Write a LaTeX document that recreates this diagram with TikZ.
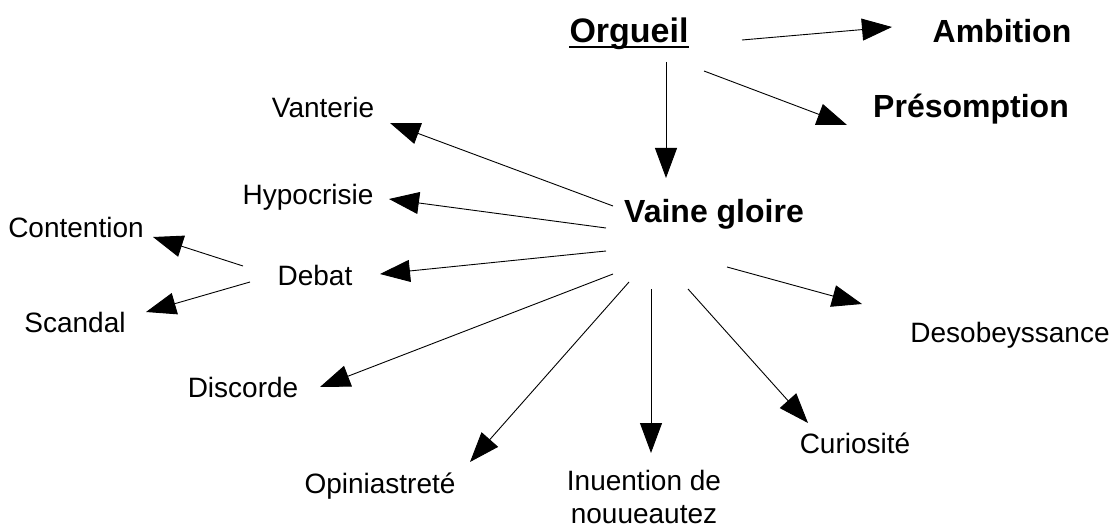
\documentclass[tikz,border=0pt]{standalone}
\usepackage{fontspec}
\setmainfont{Liberation Sans}
\usetikzlibrary{arrows.meta}
\tikzset{
  lbl/.style={inner sep=0pt, anchor=base, font=\fontsize{28}{34}\selectfont},
  blbl/.style={inner sep=0pt, anchor=base, font=\fontsize{32}{38}\selectfont\bfseries},
  arr/.style={-{Triangle[length=30pt,width=22pt]}, line width=0.9pt, black}
}
\begin{document}
\begin{tikzpicture}[x=1pt,y=-1pt]
\useasboundingbox (0,0) rectangle (1118,529);
% nodes
\node[blbl, font=\fontsize{34}{40}\selectfont\bfseries] (org) at (629,43) {Orgueil};
\draw[line width=2pt] ([yshift=-4pt]org.base west) -- ([yshift=-4pt]org.base east);
\node[blbl] (amb) at (1002,43) {Ambition};
\node[blbl] (pre) at (971,118) {Présomption};
\node[blbl] (vg) at (714,223) {Vaine gloire};
\node[lbl] (van) at (323,118) {Vanterie};
\node[lbl] (hyp) at (308,205) {Hypocrisie};
\node[lbl] (con) at (76,237) {Contention};
\node[lbl] (deb) at (315,285) {Debat};
\node[lbl] (sca) at (75,332) {Scandal};
\node[lbl] (des) at (1010,342) {Desobeyssance};
\node[lbl] (dis) at (243,397) {Discorde};
\node[lbl] (cur) at (855,453) {Curiosité};
\node[lbl] (opi) at (380,493) {Opiniastreté};
\node[lbl] (inu) at (644,490) {Inuention de};
\node[lbl] (nou) at (644,523) {nouueautez};
% connector ends
\coordinate (org-amb-s) at (742,40);  \coordinate (org-amb-e) at (892,27);
\coordinate (org-vg-s) at (666,62);   \coordinate (org-vg-e) at (666,178);
\coordinate (org-pre-s) at (704,71);  \coordinate (org-pre-e) at (847,125);
\coordinate (vg-van-s) at (613,206);  \coordinate (vg-van-e) at (390,123);
\coordinate (vg-hyp-s) at (606,228);  \coordinate (vg-hyp-e) at (389,199);
\coordinate (vg-deb-s) at (606,251);  \coordinate (vg-deb-e) at (380,274);
\coordinate (deb-con-s) at (243,266); \coordinate (deb-con-e) at (153,237);
\coordinate (deb-sca-s) at (250,282); \coordinate (deb-sca-e) at (146,312);
\coordinate (vg-dis-s) at (613,274);  \coordinate (vg-dis-e) at (320,387);
\coordinate (vg-opi-s) at (629,282);  \coordinate (vg-opi-e) at (470,462);
\coordinate (vg-inu-s) at (651,289);  \coordinate (vg-inu-e) at (651,453);
\coordinate (vg-cur-s) at (688,289);  \coordinate (vg-cur-e) at (808,423);
\coordinate (vg-des-s) at (727,267);  \coordinate (vg-des-e) at (862,304);
% connectors
\draw[arr] (org-amb-s) -- (org-amb-e);
\draw[arr] (org-vg-s) -- (org-vg-e);
\draw[arr] (org-pre-s) -- (org-pre-e);
\draw[arr] (vg-van-s) -- (vg-van-e);
\draw[arr] (vg-hyp-s) -- (vg-hyp-e);
\draw[arr] (vg-deb-s) -- (vg-deb-e);
\draw[arr] (deb-con-s) -- (deb-con-e);
\draw[arr] (deb-sca-s) -- (deb-sca-e);
\draw[arr] (vg-dis-s) -- (vg-dis-e);
\draw[arr] (vg-opi-s) -- (vg-opi-e);
\draw[arr] (vg-inu-s) -- (vg-inu-e);
\draw[arr] (vg-cur-s) -- (vg-cur-e);
\draw[arr] (vg-des-s) -- (vg-des-e);
\end{tikzpicture}
\end{document}
